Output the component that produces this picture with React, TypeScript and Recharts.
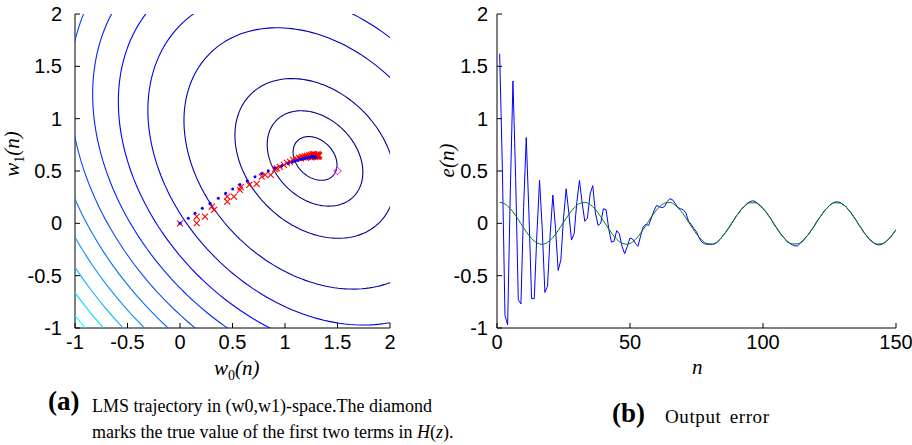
import React from 'react';
import { ScatterChart, Scatter, XAxis, YAxis, LineChart, Line } from 'recharts';

// ---------- axis ticks ----------
const wTicks = [-1, -0.5, 0, 0.5, 1, 1.5, 2];
const nTicks = [0, 50, 100, 150];
const eTicks = [-1, -0.5, 0, 0.5, 1, 1.5, 2];

// ---------- panel (a): MSE error surface ----------
const surfaceCenter = [1.286, 0.62];
const surfaceMatrix = [
  [1.0, 0.29],
  [0.29, 1.0],
];
const contourLevels = [0.04, 0.19, 0.533, 1.427, 2.321, 3.214, 4.108, 5.0, 5.895, 6.789, 7.682, 8.576, 9.47];
const contourColors = [
  '#000080', '#000086', '#000094', '#0000b8', '#0000dc', '#0000ff', '#0025ff',
  '#004aff', '#006eff', '#0092ff', '#00b7ff', '#00dbff', '#00ffff',
];

// LMS trajectory (blue dots)
const lmsW0 = [0, 0.079, 0.143, 0.212, 0.286, 0.365, 0.435, 0.502, 0.571, 0.641, 0.714, 0.778, 0.841, 0.905, 0.969, 1.031, 1.07, 1.095, 1.12, 1.143, 1.165, 1.185, 1.207, 1.222, 1.238, 1.254, 1.265, 1.275, 1.283, 1.289, 1.293];
const lmsW1 = [0, 0.049, 0.096, 0.144, 0.192, 0.24, 0.288, 0.329, 0.37, 0.408, 0.446, 0.475, 0.503, 0.529, 0.551, 0.574, 0.586, 0.593, 0.603, 0.612, 0.618, 0.622, 0.625, 0.629, 0.632, 0.635, 0.636, 0.636, 0.634, 0.632, 0.63];

// noisy trajectory (red crosses)
const noisyW0 = [0, 0.159, 0.159, 0.238, 0.302, 0.324, 0.45, 0.45, 0.514, 0.571, 0.578, 0.66, 0.73, 0.778, 0.81, 0.864, 0.905, 0.921, 0.952, 0.99, 1.019, 1.048, 1.076, 1.105, 1.133, 1.15, 1.16, 1.175, 1.19, 1.2, 1.21, 1.22, 1.23, 1.24, 1.245, 1.25, 1.26, 1.265, 1.27, 1.275, 1.28, 1.285, 1.29, 1.295, 1.3, 1.305, 1.31, 1.31, 1.315, 1.32, 1.32, 1.325];
const noisyW1 = [0, 0.064, 0.001, 0.064, 0.16, 0.128, 0.255, 0.207, 0.255, 0.319, 0.345, 0.367, 0.376, 0.446, 0.462, 0.462, 0.517, 0.526, 0.539, 0.558, 0.577, 0.587, 0.606, 0.615, 0.625, 0.62, 0.635, 0.63, 0.64, 0.625, 0.645, 0.635, 0.65, 0.64, 0.655, 0.63, 0.645, 0.66, 0.64, 0.65, 0.66, 0.635, 0.645, 0.655, 0.64, 0.65, 0.66, 0.635, 0.645, 0.655, 0.64, 0.65];

// true value (diamond)
const trueW0 = [1.5];
const trueW1 = [0.5];

// ---------- panel (b): output error ----------
const errorN = Array.from({ length: 150 }, (_, i) => i + 1);
const errorValues = [
  1.62, 0.55, -0.88, -0.97, 0.3, 1.36, 0.45, -0.73, -0.77, 0.15,
  0.82, 0.1, -0.72, -0.72, -0.1, 0.41, -0.05, -0.66, -0.6, -0.1,
  0.27, -0.05, -0.45, -0.35, 0.05, 0.33, 0.1, -0.16, -0.1, 0.2,
  0.41, 0.2, 0.02, 0.05, 0.28, 0.36, 0.1, -0.02, 0.0, 0.14,
  0.13, -0.05, -0.18, -0.17, -0.07, -0.1, -0.22, -0.29, -0.22, -0.14,
  -0.15, -0.19, -0.22, -0.12, -0.03, -0.01, -0.02, 0.05, 0.12, 0.17,
  0.16, 0.15, 0.16, 0.21, 0.235, 0.225, 0.19, 0.15, 0.14, 0.13,
  0.1, 0.02, -0.01, -0.05, -0.08, -0.14, -0.18, -0.195, -0.2, -0.2,
  -0.2, -0.195, -0.175, -0.15, -0.115, -0.085, -0.05, -0.01, 0.03, 0.072,
  0.1, 0.14, 0.16, 0.19, 0.205, 0.215, 0.21, 0.19, 0.17, 0.14,
  0.115, 0.075, 0.045, -0.005, -0.04, -0.08, -0.115, -0.14, -0.175, -0.19,
  -0.205, -0.215, -0.215, -0.19, -0.17, -0.135, -0.11, -0.07, -0.04, 0.008,
  0.045, 0.078, 0.118, 0.142, 0.172, 0.19, 0.203, 0.205, 0.2, 0.18,
  0.165, 0.132, 0.105, 0.064, 0.03, -0.015, -0.048, -0.09, -0.12, -0.155,
  -0.175, -0.195, -0.205, -0.205, -0.195, -0.18, -0.155, -0.13, -0.095, -0.06,
];

const refN = [
  1, 3, 5, 7, 9, 11, 13, 15, 17, 19, 21, 23, 25, 27, 29, 31, 33, 35, 37, 39,
  41, 43, 45, 47, 49, 51, 53, 55, 57, 59, 61, 63, 65, 67, 69, 71, 73, 75, 77, 79,
  81, 83, 85, 87, 89, 91, 93, 95, 97, 99, 101, 103, 105, 107, 109, 111, 113, 115, 117, 119,
  121, 123, 125, 127, 129, 131, 133, 135, 137, 139, 141, 143, 145, 147, 149, 150,
];
const refValues = [
  0.2, 0.185, 0.14, 0.075, -0.003, -0.08, -0.145, -0.187, -0.2, -0.182,
  -0.136, -0.069, 0.009, 0.085, 0.149, 0.189, 0.2, 0.18, 0.132, 0.063,
  -0.015, -0.091, -0.152, -0.191, -0.199, -0.177, -0.127, -0.058, 0.021, 0.096,
  0.156, 0.192, 0.199, 0.174, 0.123, 0.052, -0.027, -0.101, -0.16, -0.194,
  -0.198, -0.171, -0.118, -0.046, 0.032, 0.106, 0.163, 0.195, 0.197, 0.168,
  0.113, 0.041, -0.038, -0.111, -0.167, -0.196, -0.196, -0.165, -0.108, -0.035,
  0.044, 0.116, 0.17, 0.197, 0.194, 0.161, 0.103, 0.029, -0.05, -0.121,
  -0.173, -0.198, -0.193, -0.158, -0.098, -0.062,
];

// ---------- tables built from the arrays ----------
function contourTable(level: number) {
  const [[a, b], [, c]] = surfaceMatrix;
  const tr = a + c;
  const det = a * c - b * b;
  const disc = Math.sqrt((tr * tr) / 4 - det);
  const l1 = tr / 2 + disc;
  const l2 = tr / 2 - disc;
  let e1 = Math.abs(b) > 1e-12 ? [b, l1 - a] : [1, 0];
  const len = Math.hypot(e1[0], e1[1]);
  e1 = [e1[0] / len, e1[1] / len];
  const e2 = [-e1[1], e1[0]];
  const r1 = Math.sqrt(level / l1);
  const r2 = Math.sqrt(level / l2);
  const pts: { x: number; y: number }[] = [];
  const steps = 200;
  for (let k = 0; k <= steps; k++) {
    const t = (2 * Math.PI * k) / steps;
    const p = r1 * Math.cos(t);
    const q = r2 * Math.sin(t);
    pts.push({ x: surfaceCenter[0] + p * e1[0] + q * e2[0], y: surfaceCenter[1] + p * e1[1] + q * e2[1] });
  }
  return pts;
}
const contours = contourLevels.map((lv, i) => ({ color: contourColors[i], pts: contourTable(lv) }));
const lmsData = lmsW0.map((x, i) => ({ x, y: lmsW1[i] }));
const noisyData = noisyW0.map((x, i) => ({ x, y: noisyW1[i] }));
const trueData = trueW0.map((x, i) => ({ x, y: trueW1[i] }));
const errorData = errorN.map((n, i) => ({ n, e: errorValues[i] }));
const refData = refN.map((n, i) => ({ n, e: refValues[i] }));

// ---------- styles ----------
const tickFont = { fontSize: 20, fill: '#000', fontFamily: '"Liberation Sans", Arial, sans-serif' };
const serif = '"Liberation Serif", "Times New Roman", serif';

const NoShape = () => <g />;
const DotShape = (p: any) => <circle cx={p.cx} cy={p.cy} r={1.5} fill="#0000ff" />;
const CrossShape = (p: any) => {
  const s = 3;
  return (
    <path
      d={`M${p.cx - s},${p.cy - s}L${p.cx + s},${p.cy + s}M${p.cx - s},${p.cy + s}L${p.cx + s},${p.cy - s}`}
      stroke="#ff0000"
      strokeWidth={1.1}
      fill="none"
    />
  );
};
const DiamondShape = (p: any) => {
  const s = 3.8;
  return (
    <path
      d={`M${p.cx},${p.cy - s}L${p.cx + s},${p.cy}L${p.cx},${p.cy + s}L${p.cx - s},${p.cy}Z`}
      stroke="#ff00ff"
      strokeWidth={1}
      fill="none"
    />
  );
};

export default function App() {
  return (
    <div style={{ position: 'absolute', left: 0, top: 0, width: 912, height: 445, background: '#fff', overflow: 'hidden' }}>
      <div style={{ position: 'absolute', left: 0, top: 0 }}>
        <ScatterChart width={400} height={445} margin={{ top: 14, right: 10, bottom: 87, left: 30 }}>
          <XAxis
            type="number"
            dataKey="x"
            domain={[-1, 2]}
            ticks={wTicks}
            interval={0}
            allowDataOverflow
            height={30}
            tickSize={-5}
            tickMargin={12}
            tick={tickFont}
            stroke="#000"
          />
          <YAxis
            type="number"
            dataKey="y"
            domain={[-1, 2]}
            ticks={wTicks}
            interval={0}
            allowDataOverflow
            width={45}
            tickSize={-5}
            tickMargin={18}
            tick={tickFont}
            stroke="#000"
          />
          <XAxis xAxisId="top" orientation="top" type="number" domain={[-1, 2]} ticks={wTicks} allowDataOverflow height={0} tick={false} tickSize={-5} stroke="#000" />
          <YAxis yAxisId="right" orientation="right" type="number" domain={[-1, 2]} ticks={wTicks} allowDataOverflow width={0} tick={false} tickSize={-5} stroke="#000" />
          {contours.map((c, i) => (
            <Scatter
              key={'c' + i}
              data={c.pts}
              fill={c.color}
              line={{ stroke: c.color, strokeWidth: 1.1 }}
              shape={NoShape}
              isAnimationActive={false}
              legendType="none"
            />
          ))}
          <Scatter data={noisyData} fill="#ff0000" shape={CrossShape} isAnimationActive={false} legendType="none" />
          <Scatter data={lmsData} fill="#0000ff" shape={DotShape} isAnimationActive={false} legendType="none" />
          <Scatter data={trueData} fill="#ff00ff" shape={DiamondShape} isAnimationActive={false} legendType="none" />
        </ScatterChart>
      </div>

      <div style={{ position: 'absolute', left: 420, top: 0 }}>
        <LineChart width={492} height={445} margin={{ top: 14, right: 16, bottom: 87, left: 32 }}>
          <XAxis
            type="number"
            dataKey="n"
            domain={[0, 150]}
            ticks={nTicks}
            interval={0}
            allowDataOverflow
            height={30}
            tickSize={-5}
            tickMargin={12}
            tick={tickFont}
            stroke="#000"
          />
          <YAxis
            type="number"
            domain={[-1, 2]}
            ticks={eTicks}
            interval={0}
            allowDataOverflow
            width={45}
            tickSize={-5}
            tickMargin={14}
            tick={tickFont}
            stroke="#000"
          />
          <XAxis xAxisId="top" orientation="top" type="number" domain={[0, 150]} ticks={nTicks} allowDataOverflow height={0} tick={false} tickSize={-5} stroke="#000" />
          <YAxis yAxisId="right" orientation="right" type="number" domain={[-1, 2]} ticks={eTicks} allowDataOverflow width={0} tick={false} tickSize={-5} stroke="#000" />
          <Line data={errorData} dataKey="e" type="linear" stroke="#0000ff" strokeWidth={1} dot={false} isAnimationActive={false} />
          <Line data={refData} dataKey="e" type="monotone" stroke="#008000" strokeWidth={1} dot={false} isAnimationActive={false} />
        </LineChart>
      </div>

      {/* axis titles */}
      <div style={{ position: 'absolute', left: 214, top: 356, fontFamily: serif, fontSize: 21, fontStyle: 'italic', whiteSpace: 'nowrap' }}>
        w<sub style={{ fontStyle: 'normal', fontSize: 14 }}>0</sub>(n)
      </div>
      <div style={{ position: 'absolute', left: -16, top: 140, width: 60, transform: 'rotate(-90deg)', fontFamily: serif, fontSize: 21, fontStyle: 'italic', whiteSpace: 'nowrap', textAlign: 'center' }}>
        w<sub style={{ fontStyle: 'normal', fontSize: 14 }}>1</sub>(n)
      </div>
      <div style={{ position: 'absolute', left: 417, top: 148, width: 60, transform: 'rotate(-90deg)', fontFamily: serif, fontSize: 21, fontStyle: 'italic', whiteSpace: 'nowrap', textAlign: 'center' }}>
        e(n)
      </div>
      <div style={{ position: 'absolute', left: 692, top: 355, fontFamily: serif, fontSize: 21, fontStyle: 'italic' }}>n</div>

      {/* captions */}
      <div style={{ position: 'absolute', left: 48, top: 386, fontFamily: serif, fontSize: 27, fontWeight: 'bold' }}>(a)</div>
      <div style={{ position: 'absolute', left: 92, top: 393, fontFamily: serif, fontSize: 18, lineHeight: '26px', whiteSpace: 'nowrap' }}>
        LMS trajectory in (w0,w1)-space.The diamond
        <br />
        marks the true value of the first two terms in <i>H</i>(<i>z</i>).
      </div>
      <div style={{ position: 'absolute', left: 612, top: 398, fontFamily: serif, fontSize: 27, fontWeight: 'bold' }}>(b)</div>
      <div style={{ position: 'absolute', left: 665, top: 406, fontFamily: serif, fontSize: 19, letterSpacing: 0.6, wordSpacing: 3, whiteSpace: 'nowrap' }}>
        Output error
      </div>
    </div>
  );
}
